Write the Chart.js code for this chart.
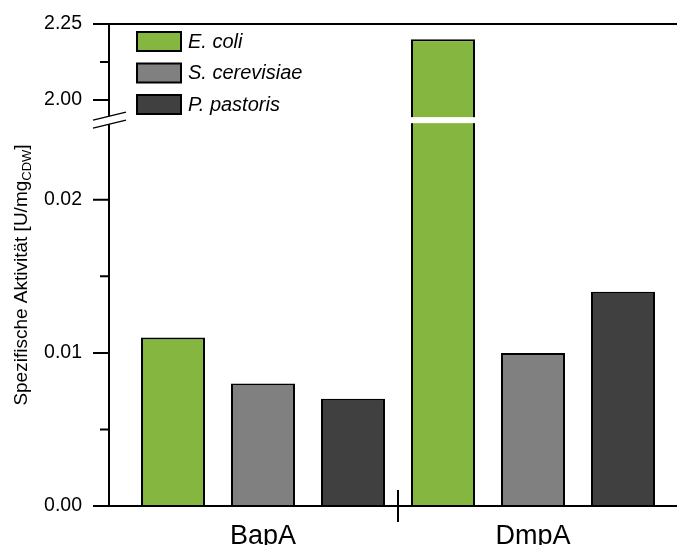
<!DOCTYPE html>
<html>
<head>
<meta charset="utf-8">
<script src="https://cdn.jsdelivr.net/npm/chart.js"></script>
<style>
  html, body { margin: 0; padding: 0; background: #fff; }
  #wrap { width: 677px; height: 545px; }
</style>
</head>
<body>
<div id="wrap"><canvas id="chart" width="677" height="545"></canvas></div>
<script>
const categories = ['BapA', 'DmpA'];
const seriesNames = ['E. coli', 'S. cerevisiae', 'P. pastoris'];
const eColi = [0.011, 2.20];
const sCerevisiae = [0.008, 0.010];
const pPastoris = [0.007, 0.014];
const seriesColors = ['#85b740', '#808080', '#404040'];
const tickValues = [0, 0.01, 0.02, 2.00, 2.25];
const tickLabels = ['0.00', '0.01', '0.02', '2.00', '2.25'];
const minorTickValues = [0.005, 0.015, 2.125];

// gebrochene Achse: unten 0..BREAK_LOW, oben BREAK_HIGH..2.25
const BREAK_LOW = 0.0252;
const BREAK_HIGH = 1.934;
const UPPER_FACTOR = 1.987;
function toAxis(v) {
    if (v <= BREAK_LOW) return v * 100;
    return BREAK_LOW * 100 + (v - BREAK_HIGH) * UPPER_FACTOR;
}

const FONT = '"Liberation Sans", Arial, sans-serif';

const axisPlugin = {
    id: 'axisPlugin',
    afterDatasetsDraw(chart) {
        const ctx = chart.ctx;
        const area = chart.chartArea;
        const y = chart.scales.y;
        const x = chart.scales.x;
        const axisX = area.left - 19;
        const yBreak = y.getPixelForValue(toAxis(BREAK_LOW));

        ctx.save();
        // Lücke in Balken über dem Bruch
        chart.data.datasets.forEach((ds, i) => {
            chart.getDatasetMeta(i).data.forEach((bar, j) => {
                if (ds.raw[j] > BREAK_LOW) {
                    ctx.fillStyle = '#fff';
                    ctx.fillRect(bar.x - bar.width / 2 - 2, yBreak - 3, bar.width + 4, 6);
                }
            });
        });

        ctx.strokeStyle = '#000';
        ctx.lineWidth = 2;
        ctx.beginPath();
        ctx.moveTo(axisX - 16, area.top); ctx.lineTo(chart.width, area.top);
        ctx.moveTo(axisX - 16, area.bottom); ctx.lineTo(chart.width, area.bottom);
        ctx.moveTo(axisX, area.top); ctx.lineTo(axisX, yBreak - 4);
        ctx.moveTo(axisX, yBreak + 4); ctx.lineTo(axisX, area.bottom);
        tickValues.forEach(v => {
            const py = y.getPixelForValue(toAxis(v));
            ctx.moveTo(axisX - 16, py); ctx.lineTo(axisX, py);
        });
        minorTickValues.forEach(v => {
            const py = y.getPixelForValue(toAxis(v));
            ctx.moveTo(axisX - 9, py); ctx.lineTo(axisX, py);
        });
        const sep = (x.getPixelForValue(0) + x.getPixelForValue(1)) / 2;
        ctx.moveTo(sep, area.bottom - 16); ctx.lineTo(sep, area.bottom + 16);
        ctx.stroke();

        // Bruchzeichen
        ctx.lineWidth = 1.5;
        ctx.beginPath();
        [-4, 4].forEach(o => {
            ctx.moveTo(axisX - 16, yBreak + o + 4);
            ctx.lineTo(axisX + 17, yBreak + o - 4);
        });
        ctx.stroke();

        // Legende
        ctx.font = 'italic 20px ' + FONT;
        ctx.textBaseline = 'middle';
        ctx.textAlign = 'left';
        chart.data.datasets.forEach((ds, i) => {
            const top = 32 + i * 31.5;
            ctx.fillStyle = ds.backgroundColor;
            ctx.fillRect(137, top, 44, 19);
            ctx.lineWidth = 2;
            ctx.strokeRect(137, top, 44, 19);
            ctx.fillStyle = '#000';
            ctx.fillText(ds.label, 188, top + 10);
        });

        // y-Achsentitel mit Index
        ctx.save();
        ctx.translate(22, 275);
        ctx.rotate(-Math.PI / 2);
        const main = 'Spezifische Aktivität [U/mg';
        const sub = 'CDW';
        const end = ']';
        ctx.font = '19px ' + FONT;
        const wMain = ctx.measureText(main).width;
        const wEnd = ctx.measureText(end).width;
        ctx.font = '13px ' + FONT;
        const wSub = ctx.measureText(sub).width;
        let px = -(wMain + wSub + wEnd) / 2;
        ctx.textBaseline = 'middle';
        ctx.font = '19px ' + FONT;
        ctx.fillText(main, px, 0);
        px += wMain;
        ctx.font = '13px ' + FONT;
        ctx.fillText(sub, px, 5);
        px += wSub;
        ctx.font = '19px ' + FONT;
        ctx.fillText(end, px, 0);
        ctx.restore();

        ctx.restore();
    }
};

const rawSeries = [eColi, sCerevisiae, pPastoris];

new Chart(document.getElementById('chart').getContext('2d'), {
    type: 'bar',
    data: {
        labels: categories,
        datasets: rawSeries.map((vals, i) => ({
            label: seriesNames[i],
            raw: vals,
            data: vals.map(toAxis),
            backgroundColor: seriesColors[i],
            borderColor: '#000',
            borderWidth: 2,
            categoryPercentage: 1,
            barPercentage: 0.711
        }))
    },
    options: {
        responsive: false,
        animation: false,
        layout: { padding: { top: 24, right: 9, left: 0, bottom: 0 } },
        plugins: {
            legend: { display: false },
            tooltip: { enabled: false }
        },
        scales: {
            x: {
                grid: { display: false },
                border: { display: false },
                ticks: { color: '#000', font: { family: FONT, size: 27 }, padding: 6 },
                afterFit: s => { s.height = 39; s.paddingLeft = 0; s.paddingRight = 0; }
            },
            y: {
                min: 0,
                max: toAxis(2.25),
                grid: { display: false },
                border: { display: false },
                afterBuildTicks: s => { s.ticks = tickValues.map(v => ({ value: toAxis(v) })); },
                ticks: {
                    autoSkip: false,
                    color: '#000',
                    font: { family: FONT, size: 19.5 },
                    padding: 38,
                    callback: (val, idx) => tickLabels[idx]
                },
                afterFit: s => { s.width = 128; s.paddingTop = 0; s.paddingBottom = 0; }
            }
        }
    },
    plugins: [axisPlugin]
});
</script>
</body>
</html>
